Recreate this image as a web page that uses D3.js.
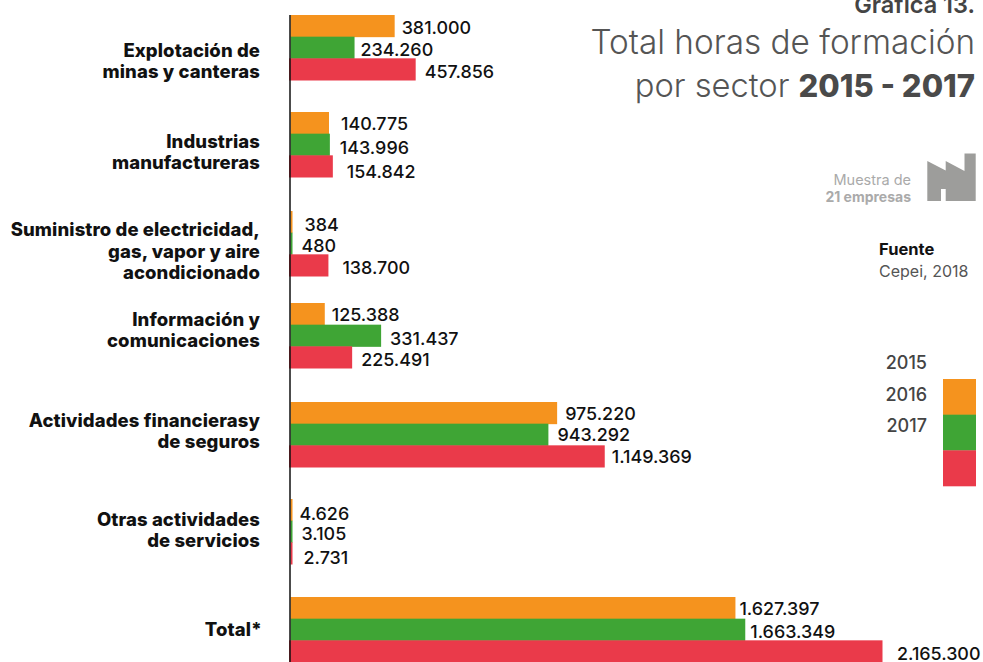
<!DOCTYPE html>
<html><head><meta charset="utf-8">
<script src="https://cdn.jsdelivr.net/npm/d3@7"></script>
<style>
html,body{margin:0;padding:0;background:#fff}
svg{display:block}
text{font-family:Inter,"Noto Sans",sans-serif}
</style></head><body><svg id="c" width="983" height="662"></svg>
<script>
const categories = ["Explotación de minas y canteras","Industrias manufactureras","Suministro de electricidad, gas, vapor y aire acondicionado","Información y comunicaciones","Actividades financierasy de seguros","Otras actividades de servicios","Total*"];
const categoryLines = [["Explotación de","minas y canteras"],["Industrias","manufactureras"],["Suministro de electricidad,","gas, vapor y aire","acondicionado"],["Información y","comunicaciones"],["Actividades financierasy","de seguros"],["Otras actividades","de servicios"],["Total*"]];
const years = ["2015","2016","2017"];
const values2015 = [381000,140775,384,125388,975220,4626,1627397];
const values2016 = [234260,143996,480,331437,943292,3105,1663349];
const values2017 = [457856,154842,138700,225491,1149369,2731,2165300];
const series = [values2015,values2016,values2017];
const colors = ["#F5931E","#3FA535","#EA3A4A"];
// layout
const groupTops = [15,112,211,303,402,499,597];
const nameOffsets = [45.5,39.5,40,26.5,28.5,30.5,32];
const labelDx = [[7,6,9],[12,10,14],[12,9,14],[7,9,9],[8,9,7],[7,9,11],[4,5,14.5]];
const labelDy = [[2,2,2],[1,3,5],[3,2,2],[1,3,2],[1,0,0],[4,2,4],[1,2,2]];
const svg = d3.select("#c");
const x = d3.scaleLinear().domain([0,2165300]).range([290.5,882.5]);
const yGroup = d3.scaleOrdinal().domain(categories).range(groupTops);
const ySub = d3.scaleBand().domain(years).range([0,65]);
const fmt = d3.formatLocale({decimal:",",thousands:".",grouping:[3],currency:["",""]}).format(",d");

categories.forEach((c,i)=>{
  const g = svg.append("g").attr("transform",`translate(0,${yGroup(c)})`);
  years.forEach((yr,j)=>{
    const v = series[j][i];
    const w = Math.max(x(v)-x(0),2);
    const bleed = (j==2 && v>100000) ? 1.5 : 0;
    g.append("rect").attr("x",x(0)-bleed).attr("y",ySub(yr)).attr("width",w+bleed).attr("height",ySub.bandwidth()+.5).attr("fill",colors[j]);
    g.append("text").attr("x",x(0)+w+labelDx[i][j]).attr("y",ySub(yr)+ySub.bandwidth()/2+labelDy[i][j]).attr("dy","0.36em")
      .attr("font-size",17.9).attr("font-weight",500).attr("fill","#111").text(fmt(v));
  });
  const lines = categoryLines[i];
  const lh = 21.2;
  const start = nameOffsets[i]-(lines.length-1)*lh/2;
  lines.forEach((l,k)=>{
    g.append("text").attr("x",i==6?262:260).attr("y",start+k*lh).attr("dy","0.36em").attr("text-anchor","end")
     .attr("font-size",18.5).attr("letter-spacing",0.1).attr("font-weight",800).attr("fill","#111").text(l);
  });
});
svg.append("line").attr("x1",290).attr("x2",290).attr("y1",15).attr("y2",662).attr("stroke","#111").attr("stroke-width",1.5);

const R=975;
svg.append("text").attr("x",R).attr("y",13).attr("text-anchor","end").attr("font-size",23.5).attr("font-weight",600).attr("fill","#444").text("Gráfica 13.");
svg.append("text").attr("x",R).attr("y",54).attr("text-anchor","end").attr("font-size",33.3).attr("font-weight",300).attr("fill","#555").text("Total horas de formación");
const t2=svg.append("text").attr("x",R).attr("y",97).attr("text-anchor","end").attr("font-size",32.7).attr("font-weight",300).attr("fill","#555");
t2.append("tspan").text("por sector ");
t2.append("tspan").attr("font-weight",800).attr("font-size",31).attr("fill","#4a4a4a").text("2015 - 2017");
svg.append("text").attr("x",911).attr("y",185).attr("text-anchor","end").attr("font-size",14.5).attr("fill","#aaa").text("Muestra de");
svg.append("text").attr("x",911).attr("y",202).attr("text-anchor","end").attr("font-size",14).attr("font-weight",700).attr("fill","#aaa").text("21 empresas");
svg.append("path").attr("d","M927.3 161L945.7 170.5V161L964.5 171V153.5H975.7V201H945.7V189H941V201H927.3Z").attr("fill","#9d9d9b");
svg.append("text").attr("x",879).attr("y",255).attr("font-size",16.5).attr("font-weight",700).attr("fill","#111").text("Fuente");
svg.append("text").attr("x",879).attr("y",277).attr("font-size",16).attr("fill","#555").text("Cepei, 2018");
const legY=d3.scaleBand().domain(years).range([379,486]);
years.forEach((yr,j)=>{
  svg.append("rect").attr("x",943).attr("y",legY(yr)).attr("width",33).attr("height",legY.bandwidth()+.3).attr("fill",colors[j]);
  svg.append("text").attr("x",927).attr("y",363+j*31.5).attr("dy","0.36em").attr("text-anchor","end").attr("font-size",18).attr("font-weight",500).attr("fill","#444").text(yr);
});
</script></body></html>
